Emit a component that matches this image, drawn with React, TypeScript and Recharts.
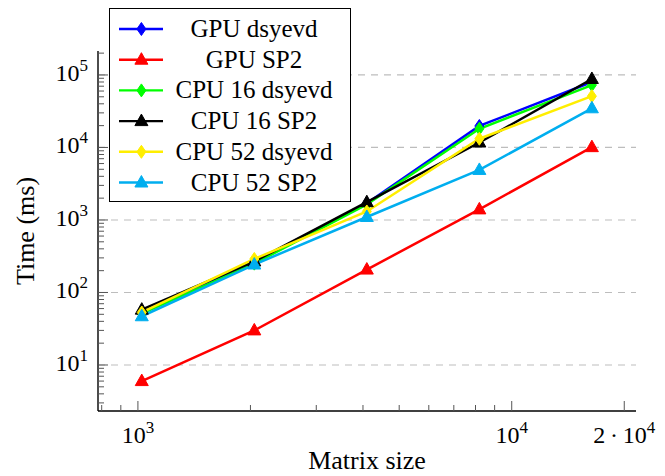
import React from "react";
import {
  LineChart,
  Line,
  XAxis,
  YAxis,
  CartesianGrid,
} from "recharts";

// matrix sizes (x) and timings in ms (y)
const sizes = [1024, 2048, 4096, 8192, 16384];
const gpuDsyevd = [53, 265, 1700, 19800, 80000];
const gpuSp2 = [6.0, 30, 207, 1400, 10100];
const cpu16Dsyevd = [51, 250, 1640, 18100, 72500];
const cpu16Sp2 = [58, 268, 1760, 11700, 88000];
const cpu52Dsyevd = [53, 290, 1310, 13200, 51000];
const cpu52Sp2 = [47, 243, 1100, 4900, 34700];

const seriesNames = [
  "GPU dsyevd",
  "GPU SP2",
  "CPU 16 dsyevd",
  "CPU 16 SP2",
  "CPU 52 dsyevd",
  "CPU 52 SP2",
];
const seriesValues = [gpuDsyevd, gpuSp2, cpu16Dsyevd, cpu16Sp2, cpu52Dsyevd, cpu52Sp2];
const seriesColors = ["#0000ff", "#ff0000", "#00ff00", "#000000", "#ffee00", "#00aeef"];
const seriesMarkers = ["diamond", "triangle", "diamond", "triangle", "diamond", "triangle"];

// axis ticks
const xMajor = [1000, 10000, 20000];
const xMajorLabels = [["10", "3"], ["10", "4"], ["2\u2009·\u200910", "4"]];
const xMinor = [800, 900, 2000, 3000, 4000, 5000, 6000, 7000, 8000, 9000];
const yMajor = [10, 100, 1000, 10000, 100000];
const yMajorLabels = ["1", "2", "3", "4", "5"];
const yMinor = [1, 10, 100, 1000, 10000, 100000]
  .flatMap((d) => [2, 3, 4, 5, 6, 7, 8, 9].map((m) => m * d))
  .filter((v) => v > 2.3 && v < 214000);

const xDomain = [782, 21500];
const yDomain = [2.32, 214000];

const FONT = "'Liberation Serif', 'DejaVu Serif', serif";
const TICK = "#555";

const data = sizes.map((n, i) => {
  const row: Record<string, number> = { n };
  seriesNames.forEach((name, s) => {
    row[name] = seriesValues[s][i];
  });
  return row;
});

function Marker({ kind, cx, cy, color }: { kind: string; cx: number; cy: number; color: string }) {
  if (kind === "diamond") {
    return (
      <polygon
        points={`${cx},${cy - 6.5} ${cx + 4.5},${cy} ${cx},${cy + 6.5} ${cx - 4.5},${cy}`}
        fill={color}
        stroke={color}
        strokeWidth={1}
      />
    );
  }
  return (
    <polygon
      points={`${cx},${cy - 7} ${cx + 6.5},${cy + 4.5} ${cx - 6.5},${cy + 4.5}`}
      fill={color}
      stroke={color}
      strokeWidth={1}
    />
  );
}

const makeDot = (kind: string, color: string) => (p: any) => {
  if (p.cx == null || p.cy == null) return <g key={p.key} />;
  return (
    <g key={p.key}>
      <Marker kind={kind} cx={p.cx} cy={p.cy} color={color} />
    </g>
  );
};

const makeXTick = (side: "bottom" | "top") => (p: any) => {
  const { x, y, payload } = p;
  const idx = xMajor.indexOf(payload.value);
  const len = idx >= 0 ? 10 : 6;
  const dir = side === "bottom" ? -1 : 1;
  return (
    <g>
      <line x1={x} x2={x} y1={y} y2={y + dir * len} stroke={TICK} strokeWidth={1} />
      {side === "bottom" && idx >= 0 && (
        <text x={x} y={y + 32} textAnchor="middle" fontFamily={FONT} fontSize={24} fill="#000">
          {xMajorLabels[idx][0]}
          <tspan dy={-10} fontSize={17}>
            {xMajorLabels[idx][1]}
          </tspan>
        </text>
      )}
    </g>
  );
};

const makeYTick = (side: "left" | "right") => (p: any) => {
  const { x, y, payload } = p;
  const idx = yMajor.indexOf(payload.value);
  const len = idx >= 0 ? 10 : 6;
  const dir = side === "left" ? 1 : -1;
  return (
    <g>
      <line x1={x} x2={x + dir * len} y1={y} y2={y} stroke={TICK} strokeWidth={1} />
      {side === "left" && idx >= 0 && (
        <text x={x - 10} y={y + 6} textAnchor="end" fontFamily={FONT} fontSize={24} fill="#000">
          10
          <tspan dy={-10} fontSize={17}>
            {yMajorLabels[idx]}
          </tspan>
        </text>
      )}
    </g>
  );
};

const YTitle = (p: any) => {
  const vb = p.viewBox;
  const cx = vb.x - 13;
  const cy = vb.y + vb.height / 2;
  return (
    <text
      x={cx}
      y={cy}
      transform={`rotate(-90 ${cx} ${cy})`}
      textAnchor="middle"
      dominantBaseline="central"
      fontFamily={FONT}
      fontSize={26}
      fill="#000"
    >
      Time (ms)
    </text>
  );
};

const XTitle = (p: any) => {
  const vb = p.viewBox;
  return (
    <text
      x={vb.x + vb.width / 2}
      y={vb.y + 58}
      textAnchor="middle"
      fontFamily={FONT}
      fontSize={26}
      fill="#000"
    >
      Matrix size
    </text>
  );
};

function LegendBox() {
  const rowH = 30.7;
  return (
    <div
      style={{
        position: "absolute",
        left: 101,
        top: 0,
        width: 242,
        height: 194,
        background: "#fff",
        border: "1.3px solid #000",
        boxSizing: "border-box",
      }}
    >
      <svg width={242} height={194} style={{ position: "absolute", left: -1, top: -1 }}>
        {seriesNames.map((name, i) => {
          const cy = 21 + i * rowH;
          return (
            <g key={name}>
              <line x1={10} x2={54} y1={cy} y2={cy} stroke={seriesColors[i]} strokeWidth={2.4} />
              <Marker kind={seriesMarkers[i]} cx={32.4} cy={cy} color={seriesColors[i]} />
              <text
                x={145}
                y={cy + 8}
                textAnchor="middle"
                fontFamily={FONT}
                fontSize={25}
                fill="#000"
              >
                {name}
              </text>
            </g>
          );
        })}
      </svg>
    </div>
  );
}

export default function App() {
  return (
    <div style={{ position: "relative", width: 649, height: 468 }}>
      <LineChart
        width={649}
        height={468}
        data={data}
        margin={{ top: 43, right: 21, bottom: 15, left: 30 }}
        style={{ overflow: "visible" }}
      >
        <CartesianGrid
          vertical={false}
          horizontalValues={yMajor}
          stroke="#bdbdbd"
          strokeDasharray="7 6"
          strokeWidth={1.2}
        />
        <XAxis
          dataKey="n"
          type="number"
          scale="log"
          domain={xDomain}
          allowDataOverflow
          ticks={[...xMinor, ...xMajor]}
          interval={0}
          tickSize={0}
          tickMargin={0}
          tick={makeXTick("bottom")}
          axisLine={{ stroke: "#000", strokeWidth: 1.4 }}
          height={50}
          label={<XTitle />}
        />
        <XAxis
          xAxisId="top"
          orientation="top"
          dataKey="n"
          type="number"
          scale="log"
          domain={xDomain}
          allowDataOverflow
          ticks={[...xMinor, ...xMajor]}
          interval={0}
          tickSize={0}
          tickMargin={0}
          tick={makeXTick("top")}
          axisLine={{ stroke: "#000", strokeWidth: 1.4 }}
          height={0}
        />
        <YAxis
          type="number"
          scale="log"
          domain={yDomain}
          allowDataOverflow
          ticks={[...yMinor, ...yMajor]}
          interval={0}
          tickSize={0}
          tickMargin={0}
          tick={makeYTick("left")}
          axisLine={{ stroke: "#000", strokeWidth: 1.4 }}
          width={60}
          label={<YTitle />}
        />
        <YAxis
          yAxisId="right"
          orientation="right"
          type="number"
          scale="log"
          domain={yDomain}
          allowDataOverflow
          ticks={[...yMinor, ...yMajor]}
          interval={0}
          tickSize={0}
          tickMargin={0}
          tick={makeYTick("right")}
          axisLine={{ stroke: "#000", strokeWidth: 1.4 }}
          width={0}
        />
        {seriesNames.map((name, i) => (
          <Line
            key={name}
            dataKey={name}
            stroke={seriesColors[i]}
            strokeWidth={2.5}
            dot={makeDot(seriesMarkers[i], seriesColors[i])}
            activeDot={false}
            isAnimationActive={false}
          />
        ))}
      </LineChart>
      <LegendBox />
    </div>
  );
}
